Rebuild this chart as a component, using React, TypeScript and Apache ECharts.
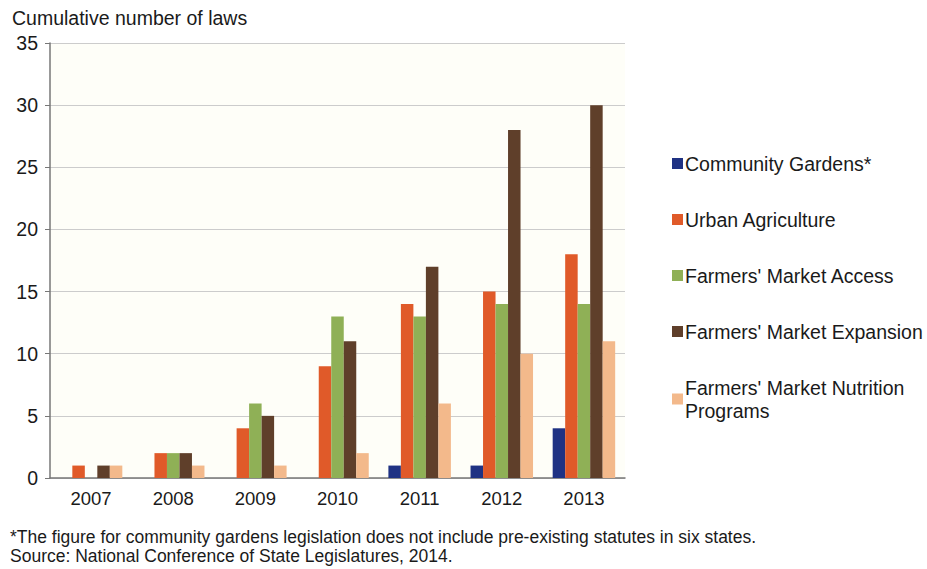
import React, { useEffect, useRef } from "react";
import * as echarts from "echarts";

const years = ["2007", "2008", "2009", "2010", "2011", "2012", "2013"];
const communityGardens = [0, 0, 0, 0, 1, 1, 4];
const urbanAgriculture = [1, 2, 4, 9, 14, 15, 18];
const marketAccess = [0, 2, 6, 13, 13, 14, 14];
const marketExpansion = [1, 2, 5, 11, 17, 28, 30];
const nutritionPrograms = [1, 1, 1, 2, 6, 10, 11];

const seriesNames = [
  "Community Gardens*",
  "Urban Agriculture",
  "Farmers' Market Access",
  "Farmers' Market Expansion",
  "Farmers' Market Nutrition Programs",
];
const seriesColors = ["#1f3283", "#e05a29", "#8fb056", "#5f3f2a", "#f3b98b"];
const seriesData = [communityGardens, urbanAgriculture, marketAccess, marketExpansion, nutritionPrograms];

const FONT = "'Liberation Sans', Arial, Helvetica, sans-serif";

export default function App() {
  const ref = useRef<HTMLDivElement>(null);
  useEffect(() => {
    if (!ref.current) return;
    const chart = echarts.init(ref.current, null, { renderer: "svg" });
    chart.setOption({
      animation: false,
      backgroundColor: "#ffffff",
      textStyle: { fontFamily: FONT },
      title: {
        text: "Cumulative number of laws",
        left: 7,
        top: 3,
        textStyle: { fontFamily: FONT, fontSize: 19.5, fontWeight: "normal", color: "#1a1a1a" },
      },
      grid: {
        left: 50,
        right: 302,
        top: 43,
        bottom: 91,
        show: true,
        backgroundColor: "#fefef8",
        borderWidth: 0,
      },
      legend: {
        orient: "vertical",
        left: 667,
        top: 147,
        itemWidth: 11,
        itemHeight: 11,
        itemGap: 33,
        icon: "rect",
        data: seriesNames,
        formatter: (name: string) =>
          name === "Farmers' Market Nutrition Programs" ? "Farmers' Market Nutrition\nPrograms" : name,
        textStyle: { fontFamily: FONT, fontSize: 19.5, color: "#1a1a1a", lineHeight: 23, padding: [0, 0, 0, -3] },
      },
      xAxis: {
        type: "category",
        data: years,
        axisLine: { show: true, lineStyle: { color: "#777777", width: 1.5 } },
        axisTick: { show: false },
        axisLabel: { fontFamily: FONT, fontSize: 18.5, color: "#1a1a1a", margin: 11 },
      },
      yAxis: {
        type: "value",
        min: 0,
        max: 35,
        interval: 5,
        axisLine: { show: true, lineStyle: { color: "#777777", width: 1.5 } },
        axisTick: { show: true, length: 5, lineStyle: { color: "#777777" } },
        splitLine: { show: true, lineStyle: { color: "#cccccc", width: 1 } },
        axisLabel: { fontFamily: FONT, fontSize: 19.5, color: "#1a1a1a", margin: 12 },
      },
      series: seriesNames.map((name, i) => ({
        name,
        type: "bar",
        data: seriesData[i],
        itemStyle: { color: seriesColors[i] },
        barWidth: 12.5,
        barGap: "0%",
      })),
      graphic: [
        {
          type: "text",
          left: 10,
          top: 527,
          style: {
            text: "*The figure for community gardens legislation does not include pre-existing statutes in six states.\nSource: National Conference of State Legislatures, 2014.",
            font: `17.5px ${FONT}`,
            fill: "#1a1a1a",
            lineHeight: 19,
          },
        },
      ],
    });
    return () => chart.dispose();
  }, []);
  return <div ref={ref} style={{ width: 927, height: 569, position: "absolute", left: 0, top: 0 }} />;
}
